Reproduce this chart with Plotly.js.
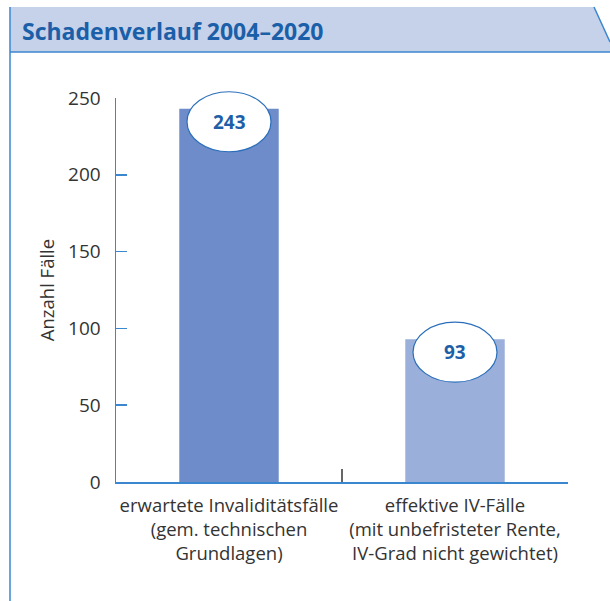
<!DOCTYPE html>
<html>
<head>
<meta charset="utf-8">
<script src="https://cdn.plot.ly/plotly-3.0.1.min.js"></script>
<style>html,body{margin:0;padding:0;background:#fff;}#chart{width:610px;height:601px;}</style>
</head>
<body>
<div id="chart"></div>
<script>
const titleText = 'Schadenverlauf 2004–2020';
const categories = [
  'erwartete Invaliditätsfälle<br>(gem. technischen<br>Grundlagen)',
  'effektive IV-Fälle<br>(mit unbefristeter Rente,<br>IV-Grad nicht gewichtet)'
];
const values = [243, 93];
const barColors = ['#6d8cc9', '#9aafd9'];
const yTitle = 'Anzahl Fälle';
const yTickVals = [0, 50, 100, 150, 200, 250];
const yRange = [0, 250];

const W = 610, H = 601;
const mL = 116, mR = 42, mT = 98, mB = 119;
const pw = W - mL - mR, ph = H - mT - mB;
const px = v => (v - mL) / pw;
const py = v => (H - mB - v) / ph;

const blue = '#3a86cf';
const shapes = [
  {type:'path', xref:'paper', yref:'paper',
   path:`M ${px(10)},${py(7)} L ${px(594)},${py(7)} L ${px(610)},${py(42)} L ${px(610)},${py(52)} L ${px(10)},${py(52)} Z`,
   fillcolor:'#c6d1ea', line:{width:0}, layer:'below'},
  {type:'line', xref:'paper', yref:'paper', x0:px(10), x1:px(10), y0:py(7), y1:py(601), line:{color:blue, width:1.5}},
  {type:'line', xref:'paper', yref:'paper', x0:px(594), x1:px(610), y0:py(7), y1:py(42), line:{color:blue, width:1.5}},
  {type:'line', xref:'paper', yref:'paper', x0:px(10), x1:px(610), y0:py(52), y1:py(52), line:{color:blue, width:1.5}}
];
values.forEach((v, i) => {
  shapes.push({type:'circle', xref:'x', yref:'paper', xsizemode:'pixel', ysizemode:'pixel',
    xanchor:i, yanchor:(v - yRange[0]) / (yRange[1] - yRange[0]), x0:-42, x1:42, y0:-43, y1:17,
    fillcolor:'#ffffff', line:{color:'#2b6fbb', width:1.2}, layer:'above'});
});
const annotations = values.map((v, i) => ({
  x:i, y:v, xref:'x', yref:'y', yshift:-13, showarrow:false, text:String(v),
  font:{family:'Open Sans, sans-serif', size:19, color:'#1e5fa8', weight:700}
}));

const trace = {
  type:'bar', x:categories, y:values, width:0.44,
  marker:{color:barColors, line:{width:0}}, hoverinfo:'none'
};

const layout = {
  width:W, height:H, margin:{l:mL, r:mR, t:mT, b:mB},
  paper_bgcolor:'#ffffff', plot_bgcolor:'#ffffff', showlegend:false,
  font:{family:'Open Sans, sans-serif', size:18, color:'#333333'},
  title:{text:titleText, xref:'container', yref:'container', x:22/W, xanchor:'left', y:1-32/H, yanchor:'middle',
    font:{family:'Open Sans, sans-serif', size:23, color:'#1a5fa8', weight:700}},
  xaxis:{type:'category', range:[-0.5, 1.5], tickson:'boundaries', ticks:'inside', ticklen:13, tickwidth:1.5,
    tickcolor:'#666666', showline:true, linecolor:blue, linewidth:1.5, showgrid:false, zeroline:false,
    tickangle:0, tickfont:{size:18.5, color:'#333333'}, ticklabelstandoff:6},
  yaxis:{range:yRange, tickvals:yTickVals, ticks:'inside', ticklen:11, tickwidth:1.5, tickcolor:blue,
    showline:true, linecolor:blue, linewidth:1.5, showgrid:false, zeroline:false,
    tickfont:{size:19, color:'#333333'}, ticklabelstandoff:10,
    title:{text:yTitle, standoff:8, font:{size:18.5, color:'#333333'}}},
  shapes:shapes, annotations:annotations
};
Plotly.newPlot('chart', [trace], layout, {displayModeBar:false, staticPlot:true});
</script>
</body>
</html>
